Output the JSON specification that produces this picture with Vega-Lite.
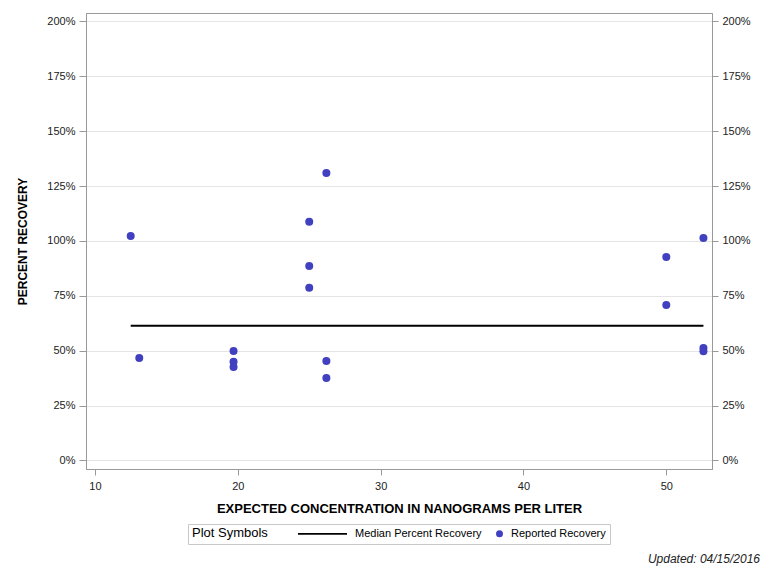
{
  "$schema": "https://vega.github.io/schema/vega-lite/v6.json",
  "width": 626,
  "height": 456,
  "autosize": {"type": "none"},
  "padding": {"left": 86, "top": 13, "right": 56, "bottom": 107},
  "background": "white",
  "title": {
    "text": "Updated: 04/15/2016",
    "orient": "bottom",
    "anchor": "end",
    "frame": "group",
    "font": "Liberation Sans",
    "fontSize": 12,
    "fontStyle": "italic",
    "fontWeight": "normal",
    "color": "#222",
    "dx": 48,
    "dy": 5
  },
  "config": {
    "view": {"stroke": "#999", "strokeWidth": 1},
    "axis": {
      "labelFont": "Liberation Sans",
      "labelFontSize": 11,
      "labelColor": "#222",
      "domainColor": "#999",
      "tickColor": "#999",
      "gridColor": "#e4e4e4",
      "titleFont": "Liberation Sans",
      "titleFontWeight": "bold",
      "titleColor": "#000"
    },
    "legend": {
      "orient": "none",
      "legendX": 102,
      "legendY": 511,
      "direction": "horizontal",
      "titleOrient": "left",
      "labelFont": "Liberation Sans",
      "labelFontSize": 11,
      "labelColor": "#000",
      "titleFont": "Liberation Sans",
      "titleFontSize": 13,
      "titleFontWeight": "normal",
      "titleColor": "#000",
      "titlePadding": 70,
      "strokeColor": "#c8c8c8",
      "padding": 4,
      "symbolSize": 49,
      "symbolStrokeWidth": 0,
      "columnPadding": 12,
      "labelOffset": 6
    }
  },
  "data": {
    "values": [
      {"conc": 12.5, "pct": 102.2, "series": "Reported Recovery"},
      {"conc": 13.1, "pct": 46.7, "series": "Reported Recovery"},
      {"conc": 19.7, "pct": 49.9, "series": "Reported Recovery"},
      {"conc": 19.7, "pct": 44.9, "series": "Reported Recovery"},
      {"conc": 19.7, "pct": 42.6, "series": "Reported Recovery"},
      {"conc": 25.0, "pct": 108.7, "series": "Reported Recovery"},
      {"conc": 25.0, "pct": 88.6, "series": "Reported Recovery"},
      {"conc": 25.0, "pct": 78.7, "series": "Reported Recovery"},
      {"conc": 26.2, "pct": 130.9, "series": "Reported Recovery"},
      {"conc": 26.2, "pct": 45.3, "series": "Reported Recovery"},
      {"conc": 26.2, "pct": 37.6, "series": "Reported Recovery"},
      {"conc": 50.0, "pct": 92.7, "series": "Reported Recovery"},
      {"conc": 50.0, "pct": 70.8, "series": "Reported Recovery"},
      {"conc": 52.6, "pct": 101.3, "series": "Reported Recovery"},
      {"conc": 52.6, "pct": 51.2, "series": "Reported Recovery"},
      {"conc": 52.6, "pct": 49.7, "series": "Reported Recovery"},
      {"conc": 12.5, "pct": 61.4, "series": "Median Percent Recovery"},
      {"conc": 52.6, "pct": 61.4, "series": "Median Percent Recovery"}
    ]
  },
  "layer": [
    {
      "transform": [{"filter": "datum.series === 'Median Percent Recovery'"}],
      "mark": {"type": "line", "strokeWidth": 2},
      "encoding": {
        "x": {
          "field": "conc",
          "type": "quantitative",
          "scale": {"domain": [9.37, 53.2], "nice": false, "zero": false},
          "axis": {
            "title": "EXPECTED CONCENTRATION IN NANOGRAMS PER LITER",
            "titleFontSize": 13,
            "titlePadding": 11,
            "values": [10, 20, 30, 40, 50],
            "grid": false,
            "tickSize": 6,
            "labelPadding": 5
          }
        },
        "y": {
          "field": "pct",
          "type": "quantitative",
          "scale": {"domain": [-3.9, 203.8], "nice": false, "zero": false},
          "axis": {
            "title": "PERCENT RECOVERY",
            "titleFontSize": 12,
            "titlePadding": 17,
            "values": [0, 25, 50, 75, 100, 125, 150, 175, 200],
            "labelExpr": "datum.value + '%'",
            "grid": true,
            "tickSize": 7,
            "labelPadding": 4
          }
        },
        "color": {
          "field": "series",
          "type": "nominal",
          "scale": {
            "domain": ["Median Percent Recovery", "Reported Recovery"],
            "range": ["#000000", "#4040C0"]
          },
          "legend": {"title": "Plot Symbols"}
        }
      }
    },
    {
      "transform": [{"filter": "datum.series === 'Reported Recovery'"}],
      "mark": {"type": "point", "filled": true, "size": 64, "opacity": 1},
      "encoding": {
        "x": {"field": "conc", "type": "quantitative"},
        "y": {
          "field": "pct",
          "type": "quantitative",
          "axis": {
            "orient": "right",
            "title": null,
            "values": [0, 25, 50, 75, 100, 125, 150, 175, 200],
            "labelExpr": "datum.value + '%'",
            "grid": false,
            "tickSize": 6,
            "labelPadding": 4
          }
        },
        "color": {
          "field": "series",
          "type": "nominal",
          "legend": {"title": "Plot Symbols"}
        },
        "shape": {
          "field": "series",
          "type": "nominal",
          "scale": {
            "domain": ["Median Percent Recovery", "Reported Recovery"],
            "range": ["M-13,-0.25H1V0.25H-13Z", "circle"]
          },
          "legend": {"title": "Plot Symbols"}
        }
      }
    }
  ],
  "resolve": {"axis": {"y": "independent"}}
}
